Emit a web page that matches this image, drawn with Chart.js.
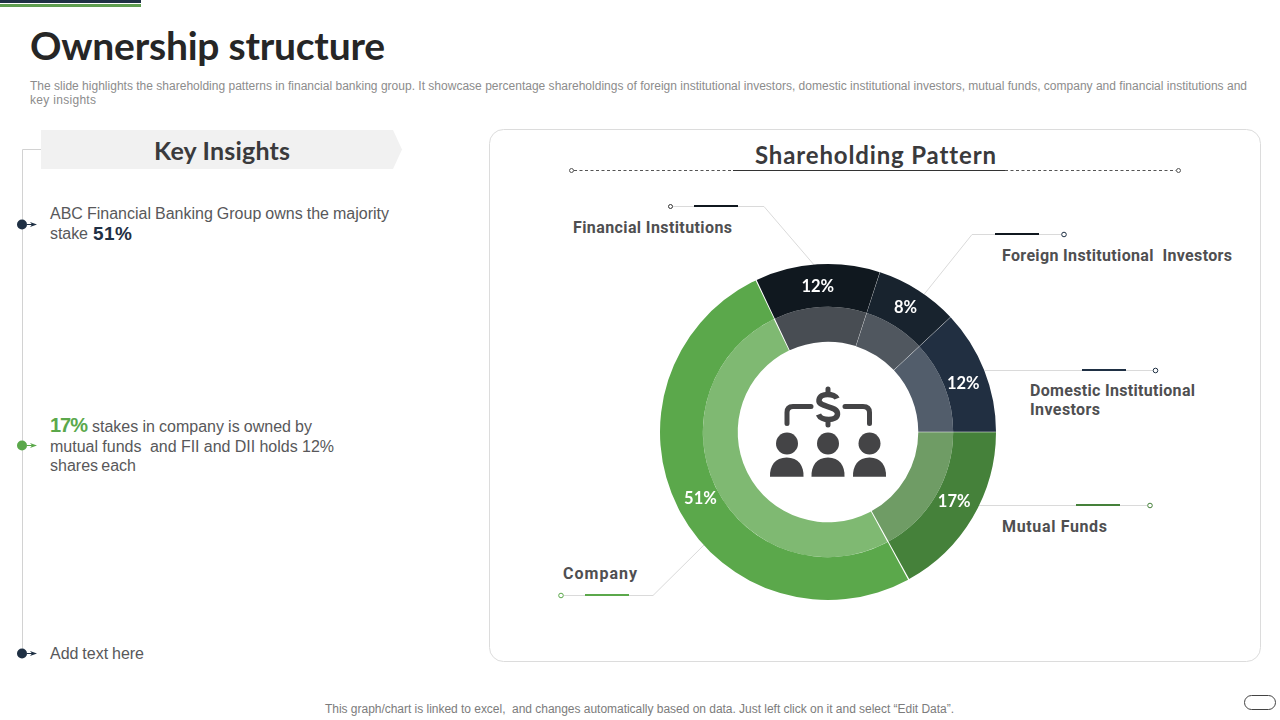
<!DOCTYPE html>
<html>
<head>
<meta charset="utf-8">
<script src="https://cdn.jsdelivr.net/npm/chart.js@4/dist/chart.umd.min.js"></script>
<style>
html,body{margin:0;padding:0;background:#fff;}
#page{position:relative;width:1280px;height:720px;overflow:hidden;background:#fff;font-family:"Liberation Sans",Arial,sans-serif;}
.t{position:absolute;white-space:pre;line-height:1;transform:translateY(-50%);}
.body{font-size:16px;color:#58585a;}
.sub{font-size:12px;color:#8c8c8c;}
.lab{font-size:16px;font-weight:700;color:#4f4f51;font-family:"Roboto","Liberation Sans",sans-serif;}
.head{font-family:"Lato","Liberation Sans",sans-serif;font-weight:700;color:#3a3a3c;}
svg{position:absolute;left:0;top:0;}
#chartBox{position:absolute;left:658px;top:262px;width:340px;height:340px;}
</style>
</head>
<body>
<div id="page">
<svg width="1280" height="720" viewBox="0 0 1280 720" fill="none">
  <rect x="0" y="0" width="141" height="3" fill="#1f3044"/>
  <rect x="0" y="4" width="141" height="3" fill="#5f9e50"/>
  <path d="M41 130H393L402 149.5L393 169H41Z" fill="#f1f1f1"/>
  <path d="M41 149.5H22.5V653" stroke="#d2d2d2" stroke-width="1"/>
  <circle cx="22" cy="224.5" r="5" fill="#1f3044"/><path d="M30 222L37 224.5L30 227L32 224.5Z" fill="#1f3044"/><path d="M27 224.5H33" stroke="#1f3044"/>
  <circle cx="22" cy="445.5" r="5" fill="#5ba84b"/><path d="M30 443L37 445.5L30 448L32 445.5Z" fill="#5ba84b"/><path d="M27 445.5H33" stroke="#5ba84b"/>
  <circle cx="22" cy="653.5" r="5" fill="#1f3044"/><path d="M30 651L37 653.5L30 656L32 653.5Z" fill="#1f3044"/><path d="M27 653.5H33" stroke="#1f3044"/>
  <rect x="489.5" y="129.5" width="771" height="532" rx="14" stroke="#dcdcdc" fill="#fff"/>
  <path d="M574 170.5H733" stroke="#555" stroke-dasharray="3 2.5"/>
  <path d="M1005 170.5H1176" stroke="#555" stroke-dasharray="3 2.5"/>
  <path d="M733 170.5H1005" stroke="#333"/>
  <circle cx="571.5" cy="170.5" r="2" stroke="#555" fill="#fff"/>
  <circle cx="1178.5" cy="170.5" r="2" stroke="#555" fill="#fff"/>
  <!-- leader lines -->
  <g stroke="#dadada">
    <path d="M673 206.5H764L815 266"/>
    <path d="M1061 234.5H972L918 302"/>
    <path d="M985 370.5H1153"/>
    <path d="M975 505.5H1147"/>
    <path d="M564 595.5H653L705 544"/>
  </g>
  <rect x="694" y="205" width="44" height="2" fill="#10181f"/>
  <rect x="995" y="233" width="44" height="2" fill="#10181f"/>
  <rect x="1082" y="369" width="44" height="2" fill="#1f3044"/>
  <rect x="1076" y="504" width="44" height="2" fill="#45813a"/>
  <rect x="585" y="594" width="44" height="2" fill="#5ba84b"/>
  <circle cx="670.5" cy="206.5" r="2" stroke="#333" fill="#fff"/>
  <circle cx="1064" cy="234.5" r="2.3" stroke="#1f3044" fill="#fff"/>
  <circle cx="1155.5" cy="370.5" r="2.3" stroke="#1f3044" fill="#fff"/>
  <circle cx="1150" cy="505.5" r="2.3" stroke="#45813a" fill="#fff"/>
  <circle cx="561" cy="595.5" r="2.3" stroke="#5ba84b" fill="#fff"/>
  <rect x="1244.5" y="695.5" width="31" height="14" rx="7" stroke="#444" fill="#fff"/>
</svg>

<div class="t head" style="left:30px;top:45px;font-size:39px;color:#262626" data-w="355">Ownership structure</div>
<div class="t sub" style="left:30px;top:86px" data-w="1217">The slide highlights the shareholding patterns in financial banking group. It showcase percentage shareholdings of foreign institutional investors, domestic institutional investors, mutual funds, company and financial institutions and</div>
<div class="t sub" style="left:30px;top:100px" data-w="66">key insights</div>
<div class="t head" style="left:154px;top:150px;font-size:25px" data-w="136">Key Insights</div>

<div class="t body" style="left:50px;top:214px" data-w="339" data-m="w">ABC Financial Banking Group owns the majority</div>
<div class="t body" style="left:50px;top:234px" data-w="38">stake</div>
<div class="t" style="left:93px;top:233px;font-size:19px;font-weight:700;color:#1f3044" data-w="39">51%</div>
<div class="t" style="left:50px;top:425px;font-size:20px;font-weight:700;color:#5ba84b" data-w="38">17%</div>
<div class="t body" style="left:92px;top:427px" data-w="220" data-m="w">stakes in company is owned by</div>
<div class="t body" style="left:50px;top:447px" data-w="284" data-m="w">mutual funds  and FII and DII holds 12%</div>
<div class="t body" style="left:50px;top:466px" data-w="86" data-m="w">shares each</div>
<div class="t body" style="left:50px;top:654px" data-w="94" data-m="w">Add text here</div>

<div class="t head" style="left:755px;top:154.5px;font-size:24px" data-w="240">Shareholding Pattern</div>
<div class="t lab" style="left:573px;top:228px" data-w="159">Financial Institutions</div>
<div class="t lab" style="left:1002px;top:256px" data-w="230">Foreign Institutional  Investors</div>
<div class="t lab" style="left:1030px;top:391px" data-w="165">Domestic Institutional</div>
<div class="t lab" style="left:1030px;top:410px" data-w="70">Investors</div>
<div class="t lab" style="left:1002px;top:527px" data-w="105">Mutual Funds</div>
<div class="t lab" style="left:563px;top:574px" data-w="74">Company</div>
<div class="t" style="left:325px;top:709px;font-size:12px;color:#7c7c7c" data-w="629">This graph/chart is linked to excel,  and changes automatically based on data. Just left click on it and select “Edit Data”.</div>

<div id="chartBox"><canvas id="chart" width="340" height="340"></canvas></div>

<svg width="1280" height="720" viewBox="0 0 1280 720" fill="none" style="pointer-events:none">
  <g stroke="#444446" stroke-width="5" stroke-linecap="round">
    <path d="M811 406.5H793Q787 406.5 787 412.5V423.5"/>
    <path d="M845 406.5H863Q869.5 406.5 869.5 412.5V423.5"/>
    <path d="M828 389V392M828 422V425" stroke-width="5"/>
    <path d="M837 398.5C835 393.5 820 392 819 400C818 408 838 405 837.5 414C837 421.5 821 421 818.5 414.5" stroke-width="5.5" stroke-linecap="butt"/>
  </g>
  <g fill="#444446">
    <circle cx="787" cy="443.5" r="11"/><circle cx="828" cy="443.5" r="11"/><circle cx="869.5" cy="443.5" r="11"/>
    <path id="b1" d="M770 476.7C769.5 466 775 457.5 786.7 457.5C798.5 457.5 804 466 803.5 476.7Z"/>
    <path d="M811.5 476.7C811 466 816.5 457.5 828 457.5C839.5 457.5 845 466 844.5 476.7Z"/>
    <path d="M853 476.7C852.5 466 858 457.5 869.5 457.5C881 457.5 886.5 466 886 476.7Z"/>
  </g>
</svg>
</div>

<script>
const sliceNames = ["Mutual Funds", "Company", "Financial Institutions", "Foreign Institutional Investors", "Domestic Institutional Investors"];
const shareValues = [17, 51, 12, 8, 12];
const outerColours = ["#45813a", "#5ba84b", "#10181f", "#18232e", "#212f41"];
const innerColours = ["#6f9c65", "#7fb972", "#484d53", "#50575f", "#525d6b"];
const labelNudgeX = [0, 3, -1, -1, -1];
const labelNudgeY = [-5, 0, 1, -1, 6];

document.querySelectorAll('[data-w]').forEach(el => {
  const target = +el.dataset.w;
  const w = el.getBoundingClientRect().width;
  const txt = el.textContent;
  const spaces = (txt.match(/ /g) || []).length;
  if (el.dataset.m === 'w' && spaces) el.style.wordSpacing = ((target - w) / spaces) + 'px';
  else el.style.letterSpacing = ((target - w) / (txt.length - 1)) + 'px';
});

const percentLabels = {
  id: 'percentLabels',
  afterDatasetsDraw(chart) {
    const ctx = chart.ctx;
    const meta = chart.getDatasetMeta(0);
    ctx.save();
    ctx.font = '700 16.5px Lato, "Liberation Sans", sans-serif';
    ctx.fillStyle = '#ffffff';
    ctx.textAlign = 'center';
    ctx.textBaseline = 'middle';
    meta.data.forEach((arc, i) => {
      const p = arc.getCenterPoint();
      ctx.fillText(shareValues[i] + '%', p.x + labelNudgeX[i], p.y + labelNudgeY[i]);
    });
    ctx.restore();
  }
};

new Chart(document.getElementById('chart'), {
  type: 'doughnut',
  data: {
    labels: sliceNames,
    datasets: [
      { data: shareValues, backgroundColor: outerColours, borderWidth: 0, spacing: 1, weight: 43 },
      { data: shareValues, backgroundColor: innerColours, borderWidth: 0, spacing: 1, weight: 35 }
    ]
  },
  options: {
    responsive: false,
    animation: false,
    rotation: 90,
    cutout: '53.6%',
    layout: { padding: 2 },
    plugins: { legend: { display: false }, tooltip: { enabled: false } }
  },
  plugins: [percentLabels]
});
</script>
</body>
</html>
